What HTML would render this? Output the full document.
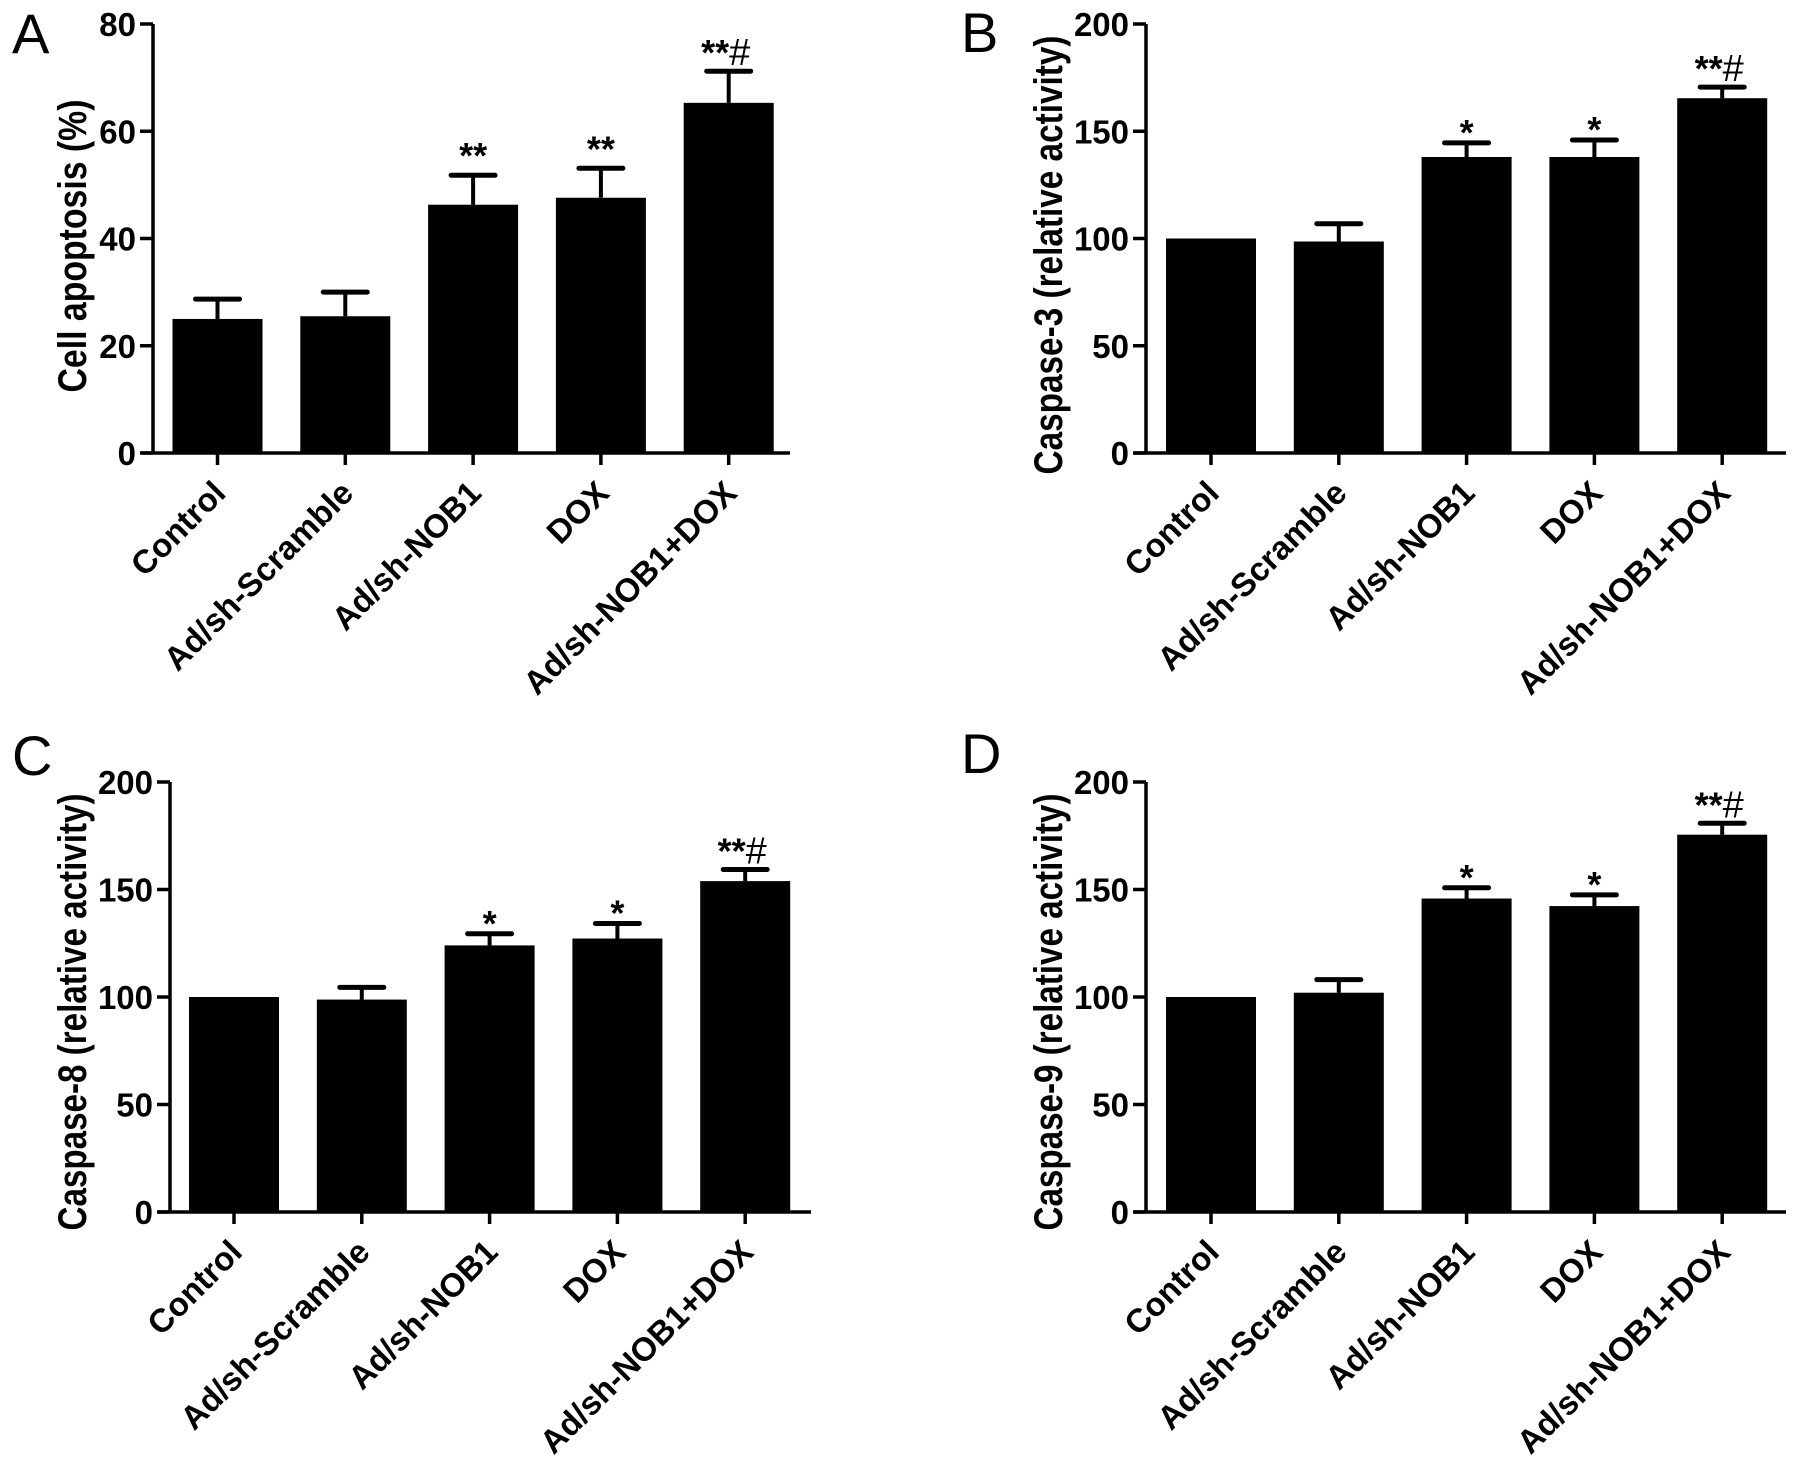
<!DOCTYPE html>
<html><head><meta charset="utf-8"><style>
html,body{margin:0;padding:0;background:#fff;overflow:hidden;}
svg{display:block;font-family:"Liberation Sans",Arial,sans-serif;}
</style></head>
<body>
<svg id="fig" width="1795" height="1466" viewBox="0 0 1795 1466" xmlns="http://www.w3.org/2000/svg"></svg>
<script>
const categories = ["Control","Ad/sh-Scramble","Ad/sh-NOB1","DOX","Ad/sh-NOB1+DOX"];
const valuesA = [25, 25.5, 46.3, 47.6, 65.3];
const errA = [28.7, 30, 51.8, 53.1, 71.2];
const valuesB = [100, 98.6, 138, 138, 165.4];
const errB = [null, 106.9, 144.6, 145.9, 170.6];
const valuesC = [100, 98.8, 124, 127.2, 153.9];
const errC = [null, 104.5, 129.4, 134.2, 159.3];
const valuesD = [100, 102, 145.8, 142.3, 175.5];
const errD = [null, 108.1, 150.8, 147.5, 180.8];
const sigA = ["", "", "**", "**", "**#"];
const sigBCD = ["", "", "*", "*", "**#"];
const ticksA = [0,20,40,60,80];
const ticksCasp = [0,50,100,150,200];

const NS="http://www.w3.org/2000/svg";
const svg=document.getElementById('fig');
function mk(tag,attrs,parent){const e=document.createElementNS(NS,tag);for(const k in attrs)e.setAttribute(k,attrs[k]);(parent||svg).appendChild(e);return e;}

const panels=[
 {id:'a',letter:'A',lx:12,ly:53,ax:153,x0:217.5,axEnd:790,yTop:24,yBot:453,max:80,ticks:ticksA,vals:valuesA,errs:errA,sig:sigA,title:'Cell apoptosis (%)',tx:72,tc:246,tl:293},
 {id:'b',letter:'B',lx:961,ly:52,ax:1146,x0:1211,axEnd:1786,yTop:24,yBot:453,max:200,ticks:ticksCasp,vals:valuesB,errs:errB,sig:sigBCD,title:'Caspase-3 (relative activity)',tx:1048,tc:255,tl:439},
 {id:'c',letter:'C',lx:12,ly:775,ax:170,x0:234,axEnd:811,yTop:782,yBot:1212,max:200,ticks:ticksCasp,vals:valuesC,errs:errC,sig:sigBCD,title:'Caspase-8 (relative activity)',tx:72,tc:1012,tl:437},
 {id:'d',letter:'D',lx:961,ly:773,ax:1146,x0:1211,axEnd:1786,yTop:782,yBot:1212,max:200,ticks:ticksCasp,vals:valuesD,errs:errD,sig:sigBCD,title:'Caspase-9 (relative activity)',tx:1048,tc:1012,tl:437}
];
const step=127.8, bw=90;

panels.forEach(p=>{
  const g=mk('g',{});
  
  
  const y=v=>p.yBot-(v/p.max)*(p.yBot-p.yTop);
  const x=i=>p.x0+i*step;
  const L=mk('text',{x:p.lx,y:p.ly,'font-size':56,fill:'#000'},g);L.textContent=p.letter;
  
  
  p.vals.forEach((v,i)=>{
    const r=mk('rect',{x:x(i)-bw/2,y:y(v),width:bw,height:p.yBot-y(v),fill:'#000'},g);
    
    
    const e=p.errs[i];
    let top=y(v);
    if(e!=null){
      top=y(e);
      const l=mk('line',{x1:x(i),x2:x(i),y1:y(v),y2:top,stroke:'#000','stroke-width':4},g);
      
      
      const c=mk('line',{x1:x(i)-22,x2:x(i)+22,y1:top,y2:top,stroke:'#000','stroke-width':5,'stroke-linecap':'round'},g);
      
      
    }
    const s=p.sig[i];
    if(s){
      const t=mk('text',{x:x(i),'text-anchor':'middle','font-size':36,'font-weight':'bold',fill:'#000'},g);
      
      
      if(s.indexOf('#')>=0){
        t.setAttribute('x',x(i)-3);t.setAttribute('y',top-6);
        t.textContent='**';
        const h=mk('tspan',{'font-size':38,'font-weight':'normal'},t);h.textContent='#';
      } else {
        t.setAttribute('y', s==='**' ? top-7 : top+2);
        t.textContent=s;
      }
    }
  });
  const ya=mk('line',{x1:p.ax,x2:p.ax,y1:p.yTop,y2:p.yBot,stroke:'#000','stroke-width':3.5},g);
  
  
  const xa=mk('line',{x1:p.ax-12,x2:p.axEnd,y1:p.yBot,y2:p.yBot,stroke:'#000','stroke-width':3.5},g);
  
  
  p.ticks.forEach(tv=>{
    mk('line',{x1:p.ax-13,x2:p.ax,y1:y(tv),y2:y(tv),stroke:'#000','stroke-width':3.5},g);
    const t=mk('text',{x:p.ax-17,y:y(tv)+12,'text-anchor':'end','font-size':33,'font-weight':'bold',fill:'#000'},g);
    t.textContent=tv;
    
    
  });
  categories.forEach((c,i)=>{
    mk('line',{x1:x(i),x2:x(i),y1:p.yBot,y2:p.yBot+12,stroke:'#000','stroke-width':3.5},g);
    const tx=x(i)+10, ty=p.yBot+42;
    const t=mk('text',{x:tx,y:ty,'text-anchor':'end','font-size':33,'font-weight':'bold',fill:'#000',transform:`rotate(-45 ${tx} ${ty})`},g);
    t.textContent=c;
    
    
  });
  const tt=mk('text',{x:p.tx+14,y:p.tc,'text-anchor':'middle','font-size':40,'font-weight':'bold',fill:'#000',textLength:p.tl,lengthAdjust:'spacingAndGlyphs',transform:`rotate(-90 ${p.tx+14} ${p.tc})`},g);
  tt.textContent=p.title;
  
  
});
</script>
</body></html>
